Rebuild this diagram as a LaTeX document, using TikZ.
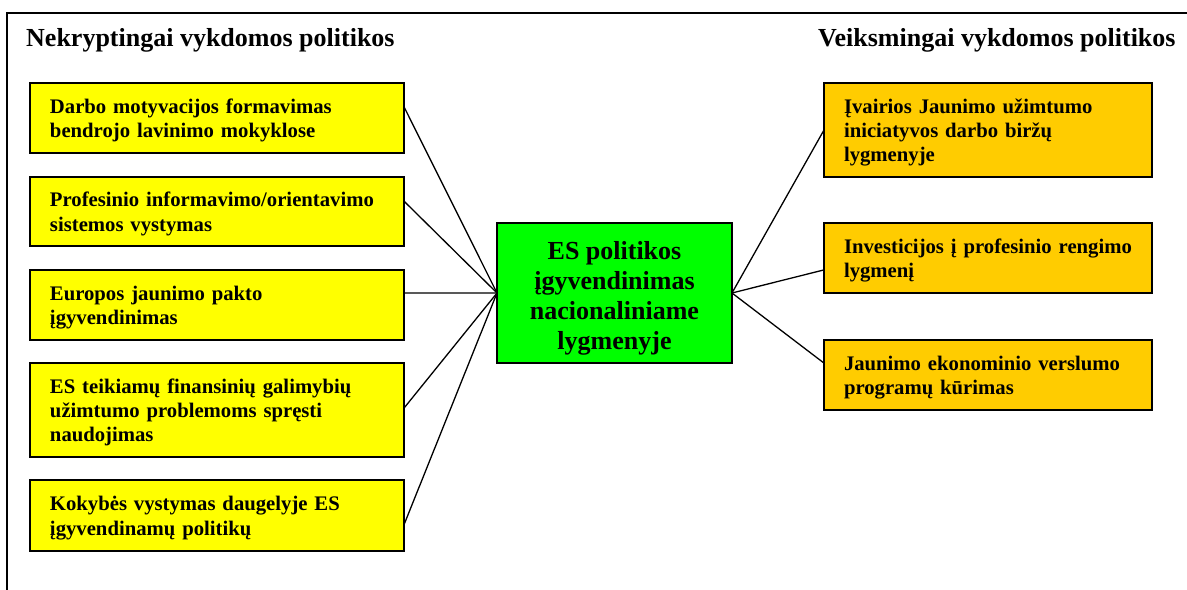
\documentclass[tikz,border=0pt]{standalone}
\usepackage{fontspec}
\setmainfont{Liberation Serif}
\usetikzlibrary{calc}
\definecolor{boxyellow}{HTML}{FFFF00}
\definecolor{boxorange}{HTML}{FFCC00}
\definecolor{boxgreen}{HTML}{00FF00}
\newcommand{\firstlinestrut}{\rule{0pt}{19.5bp}}
\newcommand{\hubstrut}{\rule{0pt}{28bp}}
\tikzset{
  leftbox/.style={draw=black, line width=1.3bp, fill=boxyellow, outer sep=0pt,
    inner xsep=20bp, inner ysep=0pt, text width=334bp, minimum width=374bp, align=left,
    font=\bfseries\fontsize{20.7bp}{24.3bp}\selectfont},
  rightbox/.style={leftbox, fill=boxorange, text width=288bp, minimum width=328bp},
  hubbox/.style={draw=black, line width=1.3bp, fill=boxgreen, outer sep=0pt,
    minimum width=235bp, minimum height=140bp, align=center, inner sep=0pt,
    font=\bfseries\fontsize{26bp}{30bp}\selectfont},
  heading/.style={inner sep=0pt, anchor=base west, font=\bfseries\fontsize{26bp}{30bp}\selectfont},
  link/.style={line width=1.3bp, draw=black}
}
\begin{document}
\begin{tikzpicture}[x=1bp, y=-1bp]
\useasboundingbox (0,0) rectangle (1187,590);
\draw[line width=1.3bp] (7,590) -- (7,13) -- (1187,13);

\node[heading] (hl) at (26,47) {Nekryptingai vykdomos politikos};
\node[heading] (hr) at (818,47) {Veiksmingai vykdomos politikos};

\node[leftbox, minimum height=70bp] (b1) at (217,118) {\firstlinestrut Darbo motyvacijos formavimas\\bendrojo lavinimo mokyklose};
\node[leftbox, minimum height=69bp] (b2) at (217,211.5) {\firstlinestrut Profesinio informavimo/orientavimo\\sistemos vystymas};
\node[leftbox, minimum height=70bp] (b3) at (217,305) {\firstlinestrut Europos jaunimo pakto\\įgyvendinimas};
\node[leftbox, minimum height=94bp] (b4) at (217,410) {\firstlinestrut ES teikiamų finansinių galimybių\\užimtumo problemoms spręsti\\naudojimas};
\node[leftbox, minimum height=71bp] (b5) at (217,515.5) {\firstlinestrut Kokybės vystymas daugelyje ES\\įgyvendinamų politikų};

\node[hubbox] (hub) at (614.5,293) {\hubstrut ES politikos\\įgyvendinimas\\nacionaliniame\\lygmenyje};

\node[rightbox, minimum height=94bp] (r1) at (988,130) {\firstlinestrut Įvairios Jaunimo užimtumo\\iniciatyvos darbo biržų\\lygmenyje};
\node[rightbox, minimum height=70bp] (r2) at (988,258) {\firstlinestrut Investicijos į profesinio rengimo\\lygmenį};
\node[rightbox, minimum height=70bp] (r3) at (988,375) {\firstlinestrut Jaunimo ekonominio verslumo\\programų kūrimas};

\draw[link] ($(b1.north east)!0.34!(b1.south east)$) -- (hub.west);
\draw[link] ($(b2.north east)!0.35!(b2.south east)$) -- (hub.west);
\draw[link] ($(b3.north east)!0.33!(b3.south east)$) -- (hub.west);
\draw[link] ($(b4.north east)!0.48!(b4.south east)$) -- (hub.west);
\draw[link] ($(b5.north east)!0.63!(b5.south east)$) -- (hub.west);
\draw[link] (hub.east) -- ($(r1.north west)!0.5!(r1.south west)$);
\draw[link] (hub.east) -- ($(r2.north west)!0.67!(r2.south west)$);
\draw[link] (hub.east) -- ($(r3.north west)!0.33!(r3.south west)$);
\end{tikzpicture}
\end{document}
